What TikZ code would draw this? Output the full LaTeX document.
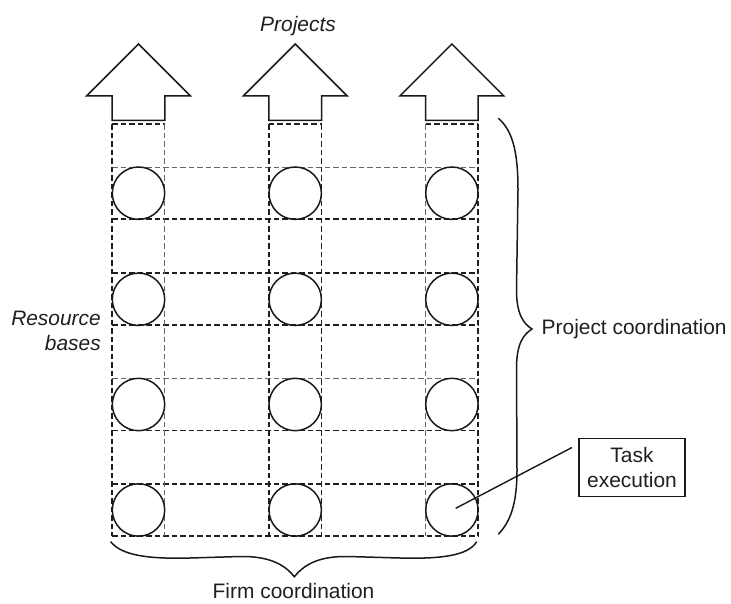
\documentclass[tikz,border=0pt]{standalone}
\usepackage{fontspec}
\setmainfont{Liberation Sans}
\usetikzlibrary{calc}
\begin{document}
\begin{tikzpicture}[x=1bp, y=-1bp, line join=miter,
  solidline/.style={line width=1.5bp, draw=black!90},
  heavydash/.style={line width=1.7bp, draw=black!88, dash pattern=on 5.5bp off 3bp},
  lightdash/.style={line width=1bp, draw=black!60, dash pattern=on 5.5bp off 3bp},
  taskcircle/.style={circle, draw=black!90, line width=1.5bp, minimum size=52.4bp, inner sep=0pt},
  lbl/.style={font=\fontsize{21}{25}\selectfont, text=black!88, inner sep=0pt},
  labelbox/.style={lbl, draw=black!90, line width=1.5bp, minimum width=106bp, minimum height=58.4bp, align=center}]
\useasboundingbox (0,0) rectangle (731,604);

% project arrows and the dashed caps of the project columns
\foreach \cx in {138.5,295.2,451.9} {
  \draw[solidline] (\cx,44) -- (\cx+52,96) -- (\cx+26.3,96) -- (\cx+26.3,120.3)
        -- (\cx-26.3,120.3) -- (\cx-26.3,96) -- (\cx-52,96) -- cycle;
  \draw[heavydash] (\cx-26.3,124.3) -- (\cx+26.3,124.3);
}

% horizontal boundaries of the resource bases
\foreach \y in {219.2,273.3,325.3,430.5,484,536}
  \draw[heavydash] (112.2,\y) -- (478.2,\y);
\foreach \y in {167.2,378.5}
  \draw[lightdash] (112.2,\y) -- (478.2,\y);

% vertical boundaries of the project columns
\foreach \x in {112.2,268.9,321.5,478.2}
  \draw[heavydash] (\x,124.3) -- (\x,536);
\foreach \x in {164.8,425.6}
  \draw[lightdash] (\x,124.3) -- (\x,536);

% task execution units
\foreach \cx/\c in {138.5/1,295.2/2,451.9/3}
  \foreach \cy/\r in {193.2/1,299.3/2,404.5/3,510/4}
    \node[taskcircle] (c\r\c) at (\cx,\cy) {};

% labels
\node[lbl, font=\fontsize{21}{25}\selectfont\itshape] (projects) at (298,26) {Projects};
\node[lbl, font=\fontsize{21}{25}\selectfont\itshape, align=right, anchor=east] (resbases) at (101,331) {Resource\\bases};
\node[lbl, anchor=west] (projcoord) at (541.5,329.5) {Project coordination};
\node[lbl] (firmcoord) at (293.5,591.5) {Firm coordination};
\node[labelbox] (task) at (632,467.5) {Task\\execution};

% pointer from the task box to one unit
\coordinate (taskfoot) at ($(c43.center)+(3.8,-1.7)$);
\coordinate (tasktip) at ($(task.west)+(-6.3,-20)$);
\draw[solidline, line width=1.4bp] (taskfoot) -- (tasktip);

% braces
\draw[solidline] (498.3,118.3) .. controls (512,130) and (518,150) .. (518,190)
   -- (516.5,290) .. controls (516.5,315) and (524,324) .. (532,329)
   .. controls (524,334) and (516.5,343) .. (516.5,368)
   -- (517,470) .. controls (517,505) and (510,522) .. (498.3,534.3);
\draw[solidline] (110.7,541.7) .. controls (122,556) and (150,559) .. (190,558)
   -- (240,556.5) .. controls (270,556) and (285,565) .. (294.3,576.7)
   .. controls (304,565) and (318,556) .. (348,556.5)
   -- (400,558) .. controls (440,559) and (468,556) .. (476.7,541.7);
\end{tikzpicture}
\end{document}
